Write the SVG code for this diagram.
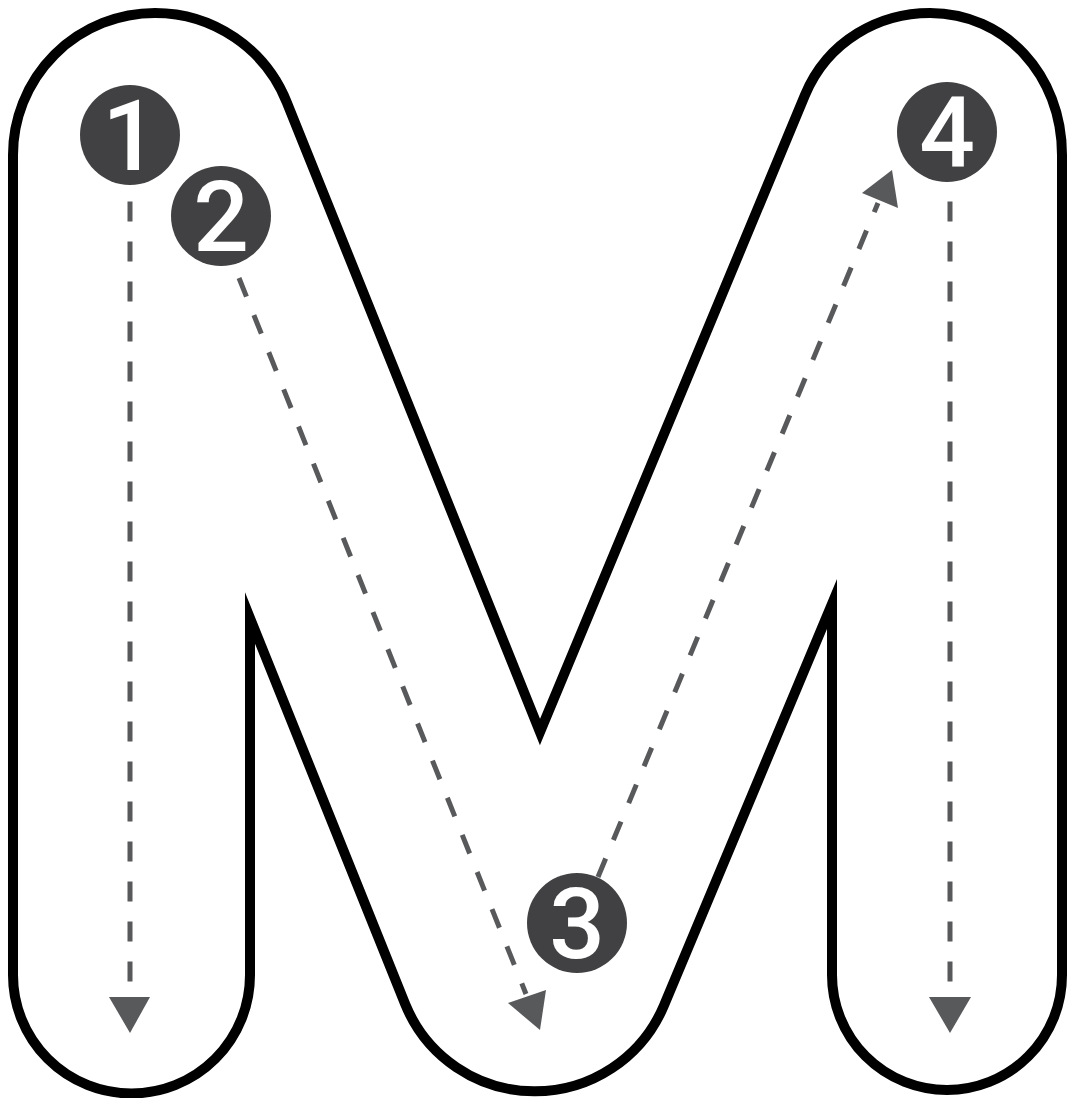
<svg xmlns="http://www.w3.org/2000/svg" width="1068" height="1098" viewBox="0 0 1068 1098">
<style>
.outline{fill:#ffffff;stroke:#000000;stroke-width:10;stroke-linejoin:miter;stroke-miterlimit:10}
.dash{fill:none;stroke:#58595b;stroke-width:5;stroke-dasharray:20 20}
.head{fill:#58595b;stroke:none}
.badge{fill:#414042}
.num{fill:#ffffff;font-family:Roboto,"Liberation Sans",sans-serif;font-weight:500;font-size:98px;text-anchor:middle}
</style>
<rect width="1068" height="1098" fill="#ffffff"/>
<g id="letter-m">
<path class="outline" d="M250 618 L405.2 1004.2 A140 140 0 0 0 663.9 1005.6 L832 604 L832 975 A115 115 0 0 0 1062 975 L1062 155 C1062 75 1005 13 930 13 C880 13 828 40 805 95 L540 732 L286.8 102.3 A142 142 0 0 0 155 13 A142 142 0 0 0 13 155 L13 975 A118.5 118.5 0 0 0 250 975 Z"/>
</g>
<g id="connectors">
<line class="dash" x1="130" y1="201.5" x2="130" y2="982"/>
<polygon class="head" points="109,997 150,997 130,1033"/>
<line class="dash" x1="950" y1="201.5" x2="950" y2="982"/>
<polygon class="head" points="929,997 971,997 950,1033"/>
<line class="dash" x1="239" y1="278" x2="526" y2="994"/>
<polygon class="head" points="508,1003 546,990 540,1030"/>
<line class="dash" x1="598" y1="877" x2="878" y2="203"/>
<polygon class="head" points="862,193 892,170 898,208"/>
</g>
<g id="node-1">
<circle class="badge" cx="130" cy="135" r="50"/>
<text class="num" x="130" y="170">1</text>
</g>
<g id="node-2">
<circle class="badge" cx="221" cy="216" r="50"/>
<text class="num" x="221" y="251">2</text>
</g>
<g id="node-3">
<circle class="badge" cx="577" cy="923" r="50"/>
<text class="num" x="577" y="958">3</text>
</g>
<g id="node-4">
<circle class="badge" cx="947" cy="132" r="50"/>
<text class="num" x="947" y="167">4</text>
</g>
</svg>
